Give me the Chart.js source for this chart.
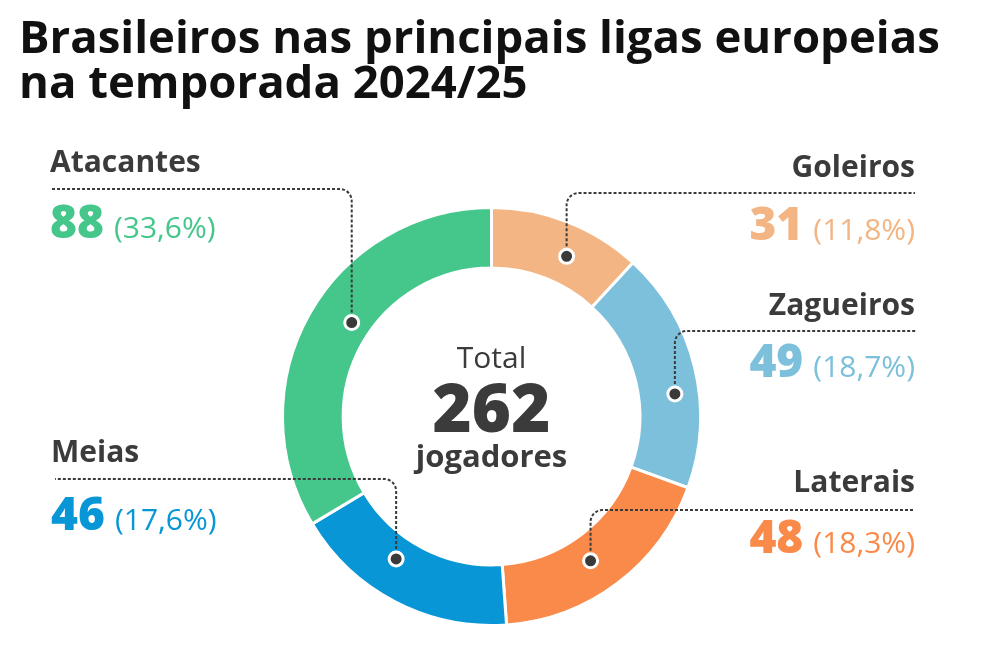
<!DOCTYPE html>
<html>
<head>
<meta charset="utf-8">
<script src="https://cdn.jsdelivr.net/npm/chart.js@4"></script>
<style>
  html, body { margin: 0; padding: 0; background: #fff; }
  #wrap { position: relative; width: 984px; height: 667px; }
</style>
</head>
<body>
<div id="wrap"><canvas id="chart" width="984" height="667"></canvas></div>
<script>
const TITLE = ['Brasileiros nas principais ligas europeias', 'na temporada 2024/25'];
const categories = ['Goleiros', 'Zagueiros', 'Laterais', 'Meias', 'Atacantes'];
const players    = [31, 49, 48, 46, 88];
const colors     = ['#F2B583', '#7CC0DC', '#FA8A4A', '#0896D6', '#45C68B'];

const FONT = '"Open Sans", "Noto Sans", sans-serif';
const INK  = '#3b3b3b';

// label placement: side, anchor x, name baseline, leader y, number baseline,
// t = position along the arc, rf = position across the ring
const LABELS = [
  { side: 'right', x: 915, name: 177, line: 193, num: 240, end: 915, t: 0.59, rf: 0.47 },
  { side: 'right', x: 915, name: 315, line: 331, num: 377, end: 917, t: 0.60, rf: 0.60 },
  { side: 'right', x: 915, name: 492, line: 510, num: 553, end: 913, t: 0.54, rf: 0.44 },
  { side: 'left',  x: 51,  name: 462, line: 479, num: 530, end: 55,  t: 0.60, rf: 0.38 },
  { side: 'left',  x: 50,  name: 172, line: 189, num: 238, end: 50,  t: 0.536, rf: 0.33 },
];

const total = players.reduce((a, b) => a + b, 0);
const pct = v => '(' + (v / total * 100).toFixed(1).replace('.', ',') + '%)';

const annotations = {
  id: 'annotations',
  afterDraw(chart) {
    const ctx  = chart.ctx;
    const meta = chart.getDatasetMeta(0);
    ctx.save();

    // title
    ctx.fillStyle = '#111';
    ctx.textAlign = 'left';
    ctx.textBaseline = 'alphabetic';
    ctx.font = `bold 45.5px ${FONT}`;
    ctx.fillText(TITLE[0], 19, 53);
    ctx.fillText(TITLE[1], 19, 98);

    // centre text
    const { x: cx, y: cy } = meta.data[0].getProps(['x', 'y'], true);
    ctx.textAlign = 'center';
    ctx.fillStyle = INK;
    ctx.font = `30px ${FONT}`;
    ctx.fillText('Total', cx, cy - 49);
    ctx.font = `800 67px ${FONT}`;
    ctx.fillText(String(total), cx, cy + 15);
    ctx.font = `bold 31px ${FONT}`;
    ctx.fillText('jogadores', cx, cy + 50);

    meta.data.forEach((arc, i) => {
      const L = LABELS[i];
      const p = arc.getProps(['x', 'y', 'startAngle', 'endAngle', 'innerRadius', 'outerRadius'], true);
      const a  = p.startAngle + (p.endAngle - p.startAngle) * L.t;
      const r  = p.innerRadius + (p.outerRadius - p.innerRadius) * L.rf;
      const px = p.x + r * Math.cos(a);
      const py = p.y + r * Math.sin(a);

      // dotted leader
      ctx.beginPath();
      ctx.setLineDash([3, 2]);
      ctx.lineWidth = 2;
      ctx.strokeStyle = '#3a3a3a';
      ctx.moveTo(px, py);
      ctx.arcTo(px, L.line, L.end, L.line, 12);
      ctx.lineTo(L.end, L.line);
      ctx.stroke();
      ctx.setLineDash([]);

      // end dot
      ctx.beginPath();
      ctx.arc(px, py, 7, 0, Math.PI * 2);
      ctx.fillStyle = '#3a3a3a';
      ctx.fill();
      ctx.lineWidth = 3;
      ctx.strokeStyle = '#fff';
      ctx.stroke();

      // texts
      ctx.textAlign = 'left';
      ctx.fillStyle = INK;
      ctx.font = `bold 30px ${FONT}`;
      const nameW = ctx.measureText(categories[i]).width;
      ctx.fillText(categories[i], L.side === 'left' ? L.x : L.x - nameW, L.name);

      const num = String(players[i]);
      const per = pct(players[i]);
      ctx.font = `800 46px ${FONT}`;
      const numW = ctx.measureText(num).width;
      ctx.font = `30px ${FONT}`;
      const perW = ctx.measureText(per).width;
      const gap = 10;
      const x0 = L.side === 'left' ? L.x : L.x - (numW + gap + perW);
      ctx.fillStyle = colors[i];
      ctx.font = `800 46px ${FONT}`;
      ctx.fillText(num, x0, L.num);
      ctx.font = `30px ${FONT}`;
      ctx.fillText(per, x0 + numW + gap, L.num);
    });
    ctx.restore();
  }
};

new Chart(document.getElementById('chart'), {
  type: 'doughnut',
  data: {
    labels: categories,
    datasets: [{
      data: players,
      backgroundColor: colors,
      borderColor: '#fff',
      borderWidth: 3,
      hoverOffset: 0,
    }]
  },
  options: {
    responsive: false,
    animation: false,
    cutout: '71%',
    layout: { padding: { left: 281, right: 282, top: 206, bottom: 40 } },
    plugins: {
      legend: { display: false },
      tooltip: { enabled: false },
    },
  },
  plugins: [annotations],
});
</script>
</body>
</html>
